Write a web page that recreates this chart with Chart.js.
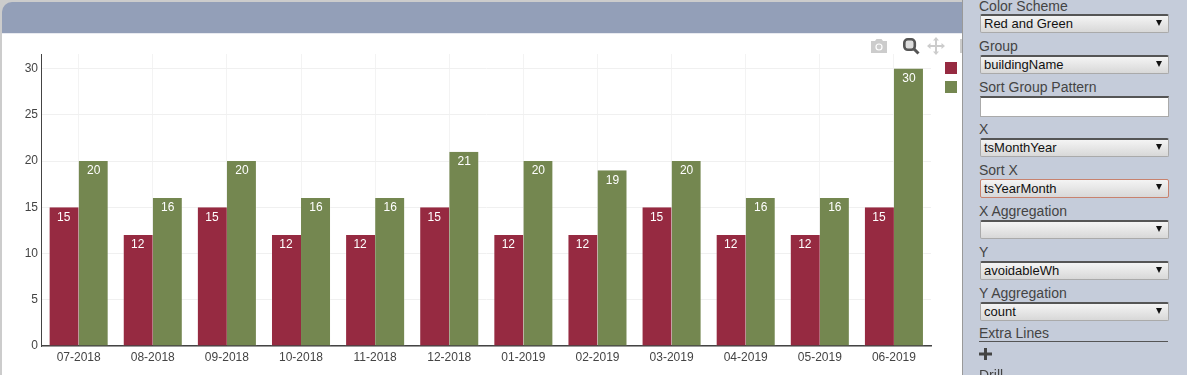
<!DOCTYPE html>
<html><head><meta charset="utf-8">
<style>
html,body{margin:0;padding:0;width:1187px;height:375px;overflow:hidden;background:#ccc;font-family:"Liberation Sans",Arial,sans-serif}
#hdr{position:absolute;left:2px;top:2px;width:961px;height:31px;background:#939fb8;border-top-left-radius:10px}
#main{position:absolute;left:2px;top:33px;width:961px;height:342px;background:#fff}
canvas{position:absolute;left:0;top:0}
#side{position:absolute;left:962px;top:0;width:225px;height:375px;background:#c5ccda;border-left:1px solid #999;box-sizing:border-box}
.lb{position:absolute;left:16px;font-size:14px;line-height:16px;color:#444;white-space:nowrap}
.sel{position:absolute;left:17px;width:189px;height:19px;box-sizing:border-box;border:1px solid #aaa;border-top:2px solid #555;border-radius:2px;background:linear-gradient(#f4f4f4,#d8d8d8);font-size:13px;line-height:16px;color:#111;padding-left:3px}
.sel:after{content:"";position:absolute;right:6px;top:4px;border-left:3.5px solid transparent;border-right:3.5px solid transparent;border-top:6px solid #111}
.sq{position:absolute;width:12px;height:12px}
svg{position:absolute}
</style></head><body>
<div id="hdr"></div><div id="main"></div>
<div style="position:absolute;left:2px;top:33px;width:961px;height:1px;background:#e8eaf0"></div>
<canvas id="c" width="963" height="375"></canvas>
<div id="legend"></div>
<svg style="left:870px;top:38px" width="18" height="16" viewBox="0 0 18 16"><path fill="#ccc" d="M1 3h4l1.5-2h5L13 3h4v12H1z"/><circle cx="9" cy="9" r="3.6" fill="#fff"/><circle cx="9" cy="9" r="2.4" fill="#ccc"/></svg>
<svg style="left:902px;top:37px" width="18" height="18" viewBox="0 0 18 18"><rect x="2.300" y="2.300" width="10.500" height="10.500" rx="3.500" fill="#ddd" stroke="#555" stroke-width="2.600"/><path d="M11.500 11.500l5 5" stroke="#555" stroke-width="3"/></svg>
<svg style="left:927px;top:37px" width="18" height="18" viewBox="0 0 18 18"><path d="M9 1v16M1 9h16" stroke="#ccc" stroke-width="2"/><path fill="#ccc" d="M9 0l3 3.500H6zM9 18l-3-3.500h6zM0 9l3.500-3v6zM18 9l-3.500 3V6z"/></svg>
<div style="position:absolute;left:960px;top:39px;width:3px;height:14px;background:#ccc"></div>
<div id="side"></div>
<script src="https://cdn.jsdelivr.net/npm/chart.js@4"></script>
<script>
const categories=["07-2018","08-2018","09-2018","10-2018","11-2018","12-2018","01-2019","02-2019","03-2019","04-2019","05-2019","06-2019"];
const seriesRed=[15,12,15,12,12,15,12,12,15,12,12,15];
const seriesGreen=[20,16,20,16,16,21,20,19,20,16,16,30];
const redColor="#962a41";
const greenColor="#748750";
const yTicks=[0,5,10,15,20,25,30];
const controls=[
 ["Color Scheme",-2,"Red and Green",14,"sel"],
 ["Group",38,"buildingName",55,"sel"],
 ["Sort Group Pattern",79,"",96,"inp"],
 ["X",121,"tsMonthYear",138,"sel"],
 ["Sort X",162,"tsYearMonth",179,"hot"],
 ["X Aggregation",203,"",220,"sel"],
 ["Y",244,"avoidableWh",261,"sel"],
 ["Y Aggregation",285,"count",302,"sel"],
 ["Extra Lines",325,null,0,"line"],
 ["Drill",367,null,0,"none"]
];
const side=document.getElementById('side');
controls.forEach(([t,ly,v,sy,k])=>{
 const l=document.createElement('div');l.className='lb';l.style.top=ly+'px';l.textContent=t;side.appendChild(l);
 if(k==='line'){const d=document.createElement('div');d.style.cssText='position:absolute;left:16px;top:341px;width:189px;height:1px;background:#555';side.appendChild(d);
   side.insertAdjacentHTML('beforeend','<svg style="left:16px;top:347px" width="14" height="14" viewBox="0 0 14 14"><path fill="#444" d="M5 1h3v4.500h5v3H8V13H5V8.500H0v-3h5z"/></svg>');return;}
 if(v===null)return;
 const s=document.createElement('div');s.style.top=sy+'px';s.textContent=v;
 if(k==='inp'){s.style.cssText+=';position:absolute;left:17px;width:189px;height:21px;box-sizing:border-box;background:#fff;border:1px solid #aaa;border-top:2px solid #555;';}
 else s.className='sel';
 if(k==='hot'){s.style.border='1px solid #c8826e';s.style.paddingTop='1px';}
 side.appendChild(s);
});
const lg=document.getElementById('legend');
[[redColor,62],[greenColor,81]].forEach(([c,y])=>{const d=document.createElement('div');d.className='sq';d.style.left='945px';d.style.top=y+'px';d.style.background=c;lg.appendChild(d);});

const barLabels={id:'barLabels',afterDatasetsDraw(ch){
 const x=ch.ctx;x.save();x.fillStyle='#fff';x.font='12px "Liberation Sans"';x.textAlign='center';x.textBaseline='middle';
 ch.data.datasets.forEach((d,i)=>ch.getDatasetMeta(i).data.forEach((b,j)=>x.fillText(d.data[j],b.x,b.y+10)));
 x.restore();}};
const tickFont={family:'"Liberation Sans"',size:12};
new Chart(document.getElementById('c'),{
 type:'bar',
 data:{labels:categories,datasets:[
  {label:'',data:seriesRed,backgroundColor:redColor,borderColor:'rgba(255,255,255,0.3)',borderWidth:{left:1,right:0,top:0,bottom:0},barPercentage:1,categoryPercentage:0.81},
  {label:'',data:seriesGreen,backgroundColor:greenColor,borderColor:'rgba(255,255,255,0.3)',borderWidth:{left:0,right:1,top:0,bottom:0},barPercentage:1,categoryPercentage:0.81}]},
 plugins:[barLabels],
 options:{responsive:false,animation:false,
  layout:{padding:{top:54,right:32,left:0,bottom:0}},
  plugins:{legend:{display:false},tooltip:{enabled:false}},
  scales:{
   x:{type:'category',position:'bottom',offset:true,
      grid:{offset:false,color:'#f3f3f3',lineWidth:1,drawTicks:false,drawOnChartArea:true},
      border:{color:'#444',width:1.5},
      ticks:{color:'#444',font:tickFont,maxRotation:0,autoSkip:false,padding:4},
      afterFit(s){s.height=29}},
   y:{position:'left',min:0,max:31.57,
      afterBuildTicks(s){s.ticks=yTicks.map(v=>({value:v}))},
      grid:{color:'#f0f0f0',lineWidth:1,drawTicks:false},
      border:{color:'#444',width:1},
      ticks:{color:'#444',font:tickFont,padding:3.6},
      afterFit(s){s.width=41.6}}
  }
 }
});
</script>
</body></html>
